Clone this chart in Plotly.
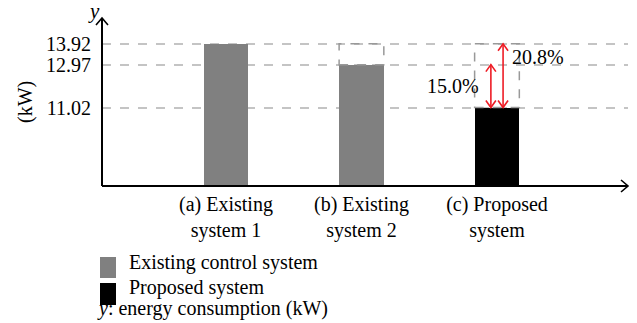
import plotly.graph_objects as go

# ---------------- data ----------------
categories = ["(a) Existing<br>system 1", "(b) Existing<br>system 2", "(c) Proposed<br>system"]
energy_kw = [13.92, 12.97, 11.02]
bar_colors = ["#808080", "#808080", "#000000"]
tick_values = [11.02, 12.97, 13.92]
legend_labels = ["Existing control system", "Proposed system"]
legend_colors = ["#808080", "#000000"]
note_text = "<i>y</i>: energy consumption (kW)"

# ---------------- layout constants ----------------
W, H = 637, 323
L, R, T, B = 102, 9, 18, 137
PW, PH = W - L - R, H - T - B
FONT = "Liberation Serif"
RED = "#ee1c25"
Y_RANGE = [7.455, 15.091]
X_RANGE = [-0.915, 2.967]


def px_x(p):
    return (p - L) / PW


def px_y(p):
    return (H - B - p) / PH


xs = list(range(len(categories)))
bar_w = 0.33

fig = go.Figure()
fig.add_trace(go.Bar(x=xs, y=energy_kw, width=bar_w, marker=dict(color=bar_colors, line=dict(width=0)),
                     showlegend=False, hoverinfo="skip"))

shapes = []
# axes with open arrowheads
shapes.append(dict(type="line", xref="paper", yref="paper", x0=0, x1=0, y0=0, y1=1,
                   line=dict(color="black", width=2)))
shapes.append(dict(type="line", xref="paper", yref="paper", x0=0, x1=1, y0=0, y1=0,
                   line=dict(color="black", width=2)))
shapes.append(dict(type="path", xref="paper", yref="paper", xsizemode="pixel", ysizemode="pixel",
                   xanchor=0, yanchor=1, path="M -6,-7 L 0,0 L 6,-7",
                   line=dict(color="black", width=1.6)))
shapes.append(dict(type="path", xref="paper", yref="paper", xsizemode="pixel", ysizemode="pixel",
                   xanchor=1, yanchor=0, path="M -7,6 L 0,0 L -7,-6",
                   line=dict(color="black", width=1.6)))

# dashed outlines showing the reduction relative to system 1
top = energy_kw[0]
for i in (1, 2):
    shapes.append(dict(type="rect", xref="x", yref="y", x0=xs[i] - bar_w / 2, x1=xs[i] + bar_w / 2,
                       y0=energy_kw[i], y1=top, line=dict(color="#999999", width=1.5, dash="dash"),
                       layer="above"))

# red double-headed arrows
arrows = [
    (xs[2] - 0.045, energy_kw[2], energy_kw[1]),
    (xs[2] + 0.045, energy_kw[2], energy_kw[0]),
]
for ax, y0, y1 in arrows:
    shapes.append(dict(type="line", xref="x", yref="y", x0=ax, x1=ax, y0=y0, y1=y1,
                       line=dict(color=RED, width=1.6)))
    shapes.append(dict(type="path", xref="x", yref="y", xsizemode="pixel", ysizemode="pixel",
                       xanchor=ax, yanchor=y1, path="M -5,-7 L 0,0 L 5,-7",
                       line=dict(color=RED, width=1.6)))
    shapes.append(dict(type="path", xref="x", yref="y", xsizemode="pixel", ysizemode="pixel",
                       xanchor=ax, yanchor=y0, path="M -5,7 L 0,0 L 5,7",
                       line=dict(color=RED, width=1.6)))

# legend swatches
sw = [(257, 278), (283, 305)]
for (a, b), c in zip(sw, legend_colors):
    shapes.append(dict(type="rect", xref="paper", yref="paper", x0=px_x(100), x1=px_x(116),
                       y0=px_y(b), y1=px_y(a), fillcolor=c, line=dict(width=0)))

pct1 = (energy_kw[1] - energy_kw[2]) / energy_kw[1] * 100
pct2 = (energy_kw[0] - energy_kw[2]) / energy_kw[0] * 100

annotations = [
    dict(text="<i>y</i>", xref="paper", yref="paper", x=px_x(94), y=px_y(11), showarrow=False,
         font=dict(size=21, family=FONT, color="black"), xanchor="center", yanchor="middle"),
    dict(text="(kW)", xref="paper", yref="paper", x=px_x(25), y=px_y(102), showarrow=False,
         textangle=-90, font=dict(size=20, family=FONT, color="black"), xanchor="center", yanchor="middle"),
    dict(text=f"{pct1:.1f}%", xref="x", yref="y", x=arrows[0][0] - 0.07, y=(energy_kw[2] + energy_kw[1]) / 2,
         showarrow=False, xanchor="right", yanchor="middle", font=dict(size=20, family=FONT, color="black")),
    dict(text=f"{pct2:.1f}%", xref="x", yref="y", x=arrows[1][0] + 0.05,
         y=energy_kw[1] + 0.35 * (energy_kw[0] - energy_kw[1]),
         showarrow=False, xanchor="left", yanchor="middle", font=dict(size=20, family=FONT, color="black")),
    dict(text=legend_labels[0], xref="paper", yref="paper", x=px_x(127), y=px_y(262), showarrow=False,
         xanchor="left", yanchor="middle", font=dict(size=20, family=FONT, color="black")),
    dict(text=legend_labels[1], xref="paper", yref="paper", x=px_x(127), y=px_y(287), showarrow=False,
         xanchor="left", yanchor="middle", font=dict(size=20, family=FONT, color="black")),
    dict(text=note_text, xref="paper", yref="paper", x=px_x(95), y=px_y(308), showarrow=False,
         xanchor="left", yanchor="middle", font=dict(size=20, family=FONT, color="black")),
]

fig.update_layout(
    template="none",
    width=W, height=H, autosize=False,
    margin=dict(l=L, r=R, t=T, b=B, pad=0),
    paper_bgcolor="white", plot_bgcolor="white",
    font=dict(family=FONT, size=20, color="black"),
    shapes=shapes, annotations=annotations,
    bargap=0,
    xaxis=dict(range=X_RANGE, tickmode="array", tickvals=xs, ticktext=categories,
               showgrid=False, zeroline=False, showline=False, ticks="", ticklabelstandoff=4,
               automargin=False,
               tickfont=dict(size=20, family=FONT, color="black"), fixedrange=True),
    yaxis=dict(range=Y_RANGE, tickmode="array", tickvals=tick_values,
               ticktext=[f"{v:.2f}" for v in tick_values],
               showgrid=True, gridcolor="#c4c4c4", griddash="dash", gridwidth=1.5,
               zeroline=False, showline=False, ticks="", ticklabelstandoff=10,
               automargin=False,
               tickfont=dict(size=20, family=FONT, color="black"), fixedrange=True),
)

fig.write_html("out.html", config={"displayModeBar": False},
               post_script="document.body.style.margin='0';document.body.style.overflow='hidden';")
